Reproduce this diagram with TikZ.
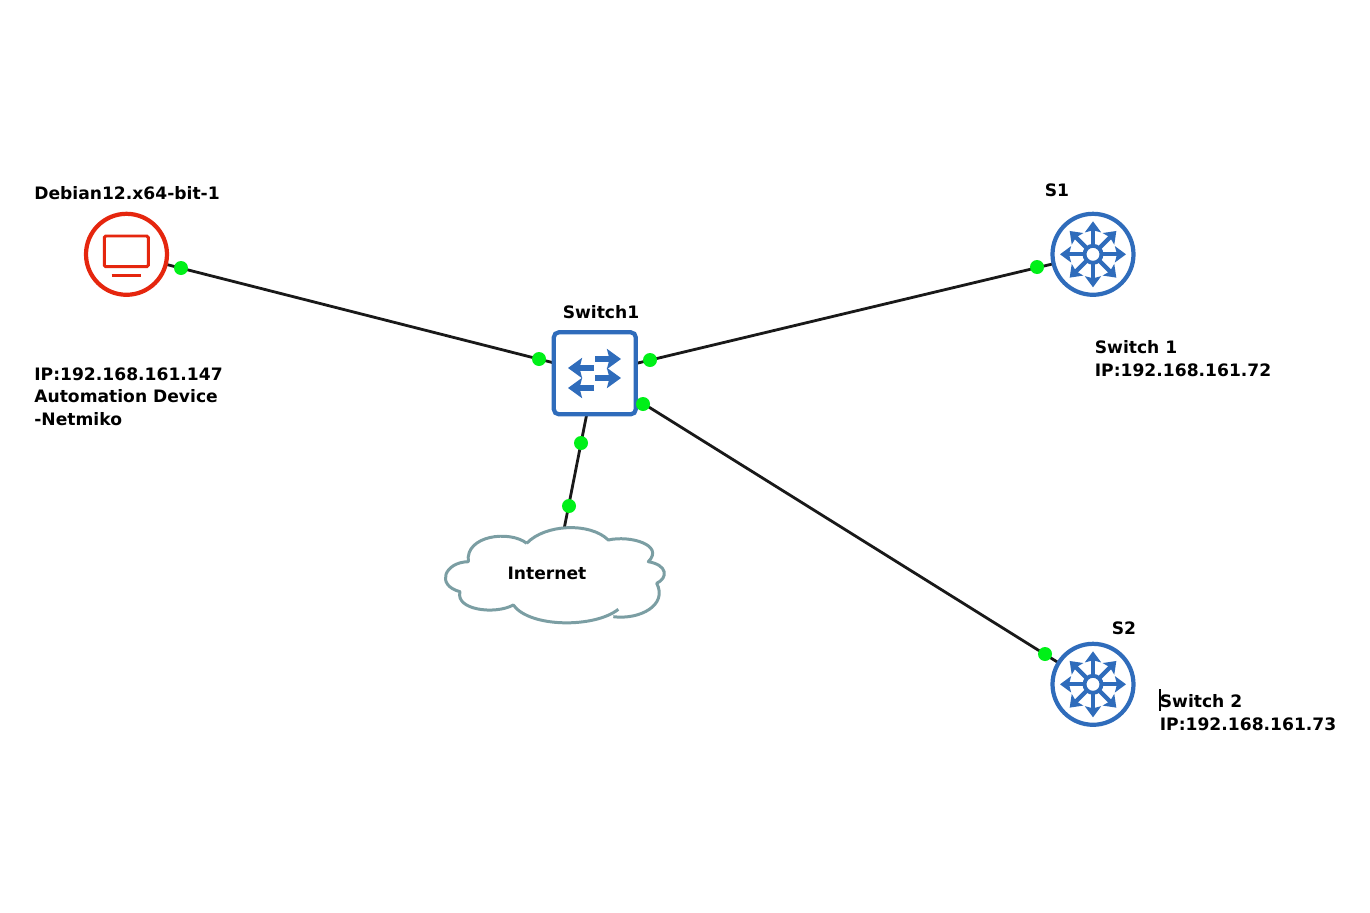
\documentclass[tikz,border=0pt]{standalone}
\usepackage{fontspec}
\setmainfont{DejaVu Sans}
\usepackage{xcolor}
\usetikzlibrary{arrows.meta,backgrounds}

\definecolor{devblue}{HTML}{2F6CBB}
\definecolor{devred}{HTML}{E5260E}
\definecolor{cloudgray}{HTML}{7B9EA3}
\definecolor{portgreen}{HTML}{00F018}

\tikzset{
	lbl/.style={inner sep=0pt,align=left,font=\fontsize{9.75}{13}\selectfont\bfseries},
	link/.style={line width=1.6pt,black!90},
	port/.style={circle,fill=portgreen,inner sep=0pt,minimum size=0.28cm},
	hostnode/.style={draw=devred,fill=white,line width=2.4pt,circle,inner sep=0pt,minimum size=1.62cm},
	routernode/.style={draw=devblue,fill=white,line width=2.4pt,circle,inner sep=0pt,minimum size=1.62cm},
	switchnode/.style={draw=devblue,fill=white,line width=2.4pt,rounded corners=0.1cm,inner sep=0pt,minimum size=1.64cm},
	swarrow/.style={devblue,line width=3.8pt,-{Stealth[length=2.8mm,width=4mm,inset=0.5mm]}},
	rtarrow/.style={devblue,line width=2.4pt,-{Stealth[length=2.2mm,width=3.2mm,inset=0.4mm]}}
}

\begin{document}
\begin{tikzpicture}[x=0.02cm,y=-0.02cm]
	\useasboundingbox (0,0) rectangle (1370,913);

	\node[hostnode] (debian) at (126.5,254.3){};
	\node[switchnode] (sw) at (594.8,373.3){};
	\node[routernode] (s1) at (1093,254.3){};
	\node[routernode] (s2) at (1093,684.3){};
	\coordinate (inet) at (555,575);

	% links go under the devices
	\begin{scope}[on background layer]
		\draw[link] (debian.center)--(sw.center);
		\draw[link] (sw.center)--(s1.center);
		\draw[link] (sw.center)--(s2.center);
		\draw[link] (sw.center)--(inet);
	\end{scope}

	% host screen
	\draw[devred,line width=1.7pt,rounded corners=0.03cm] (104.3,236) rectangle (148.3,266.7);
	\draw[devred,line width=1.7pt] (111.7,275.7)--(140.7,275.7);

	% switch arrows
	\draw[swarrow] (595,359)--(621,359);
	\draw[swarrow] (595,378)--(621,378);
	\draw[swarrow] (594,368)--(568,368);
	\draw[swarrow] (594,388)--(568,388);

	% router arrows
	\foreach \r in {s1,s2}{
		\draw[devblue,line width=2.2pt] (\r.center) circle (8.5);
		\foreach \a in {0,45,...,315}{
			\draw[rtarrow] ([shift={(\a:9)}]\r.center)--([shift={(\a:33)}]\r.center);
		}
	}

	% cloud
	\draw[cloudgray,line width=1.7pt,fill=white,line join=round]
		(526.7,543.3) .. controls (545,524) and (590,522) .. (608.3,540)
		.. controls (630,535) and (665,545) .. (648.3,561.7)
		.. controls (668,565) and (668,578) .. (656.7,583.3)
		.. controls (668,605) and (640,620) .. (613.3,616.7)
		(618.3,609.3) .. controls (595,628) and (530,628) .. (513.3,605)
		.. controls (495,615) and (455,610) .. (460,591.7)
		.. controls (435,585) and (445,562) .. (468.3,561.7)
		.. controls (465,535) and (510,530) .. (526.7,543.3);

	% ports
	\node[port] (p1) at (181,268){};
	\node[port] (p2) at (539,359){};
	\node[port] (p3) at (650,360){};
	\node[port] (p4) at (1037,267){};
	\node[port] (p5) at (643,404){};
	\node[port] (p6) at (1045,654){};
	\node[port] (p7) at (581,443){};
	\node[port] (p8) at (569,506){};

	% labels
	\node[lbl] (debianlbl) at (127,193){Debian12.x64-bit-1};
	\node[lbl] (swlbl) at (601,312){Switch1};
	\node[lbl] (s1lbl) at (1057,190){S1};
	\node[lbl] (s2lbl) at (1124,628){S2};
	\node[lbl] (inetlbl) at (547,573){Internet};
	\node[lbl,anchor=north west] (debianinfo) at (34,367){IP:192.168.161.147\\Automation Device\\-Netmiko};
	\node[lbl,anchor=north west] (s1info) at (1094.5,340){Switch 1\\IP:192.168.161.72};
	\node[lbl,anchor=north west] (s2info) at (1159.5,694){Switch 2\\IP:192.168.161.73};
	\draw[black,line width=0.6pt] (1160,689)--(1160,711);
\end{tikzpicture}
\end{document}
